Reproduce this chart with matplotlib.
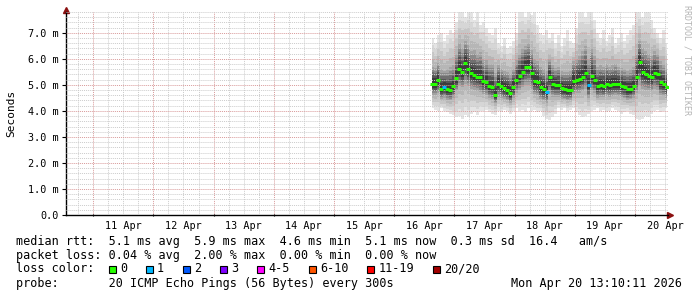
import numpy as np
import matplotlib
matplotlib.use('Agg')
import matplotlib.pyplot as plt
import matplotlib.dates as mdates
from matplotlib.ticker import MultipleLocator, FuncFormatter, NullFormatter
from matplotlib.patches import Rectangle

W, H = 697, 297
MONO = 'DejaVu Sans Mono'

# ---- data (ms), one column every 72 min ----
t_start = np.datetime64('2026-04-16T15:10:11')
view_start = np.datetime64('2026-04-10T13:10:11')
view_end = np.datetime64('2026-04-20T13:10:11')

median = [5.04, 5.05, 5.17, 4.86, 4.91, 4.84, 4.82, 4.95, 5.25, 5.62,
          5.48, 5.83, 5.60, 5.45, 5.38, 5.32, 5.30, 5.15, 5.10, 4.95,
          4.90, 4.62, 5.05, 4.95, 4.87, 4.80, 4.68, 4.93, 5.20, 5.35,
          5.50, 5.68, 5.70, 5.45, 5.16, 5.12, 4.92, 4.85, 4.74, 5.30,
          5.05, 5.00, 4.98, 4.87, 4.84, 4.80, 4.82, 5.15, 5.18, 5.24,
          5.30, 5.45, 5.00, 5.35, 5.20, 4.94, 5.00, 4.97, 5.02, 5.00,
          5.03, 5.04, 5.02, 4.95, 4.90, 4.83, 4.85, 4.94, 5.30, 5.86,
          5.50, 5.42, 5.35, 5.30, 5.47, 5.40, 5.10, 5.02, 4.91]
q1 = [4.62, 4.60, 4.70, 4.45, 4.50, 4.42, 4.40, 4.50, 4.75, 4.95,
      4.90, 5.05, 4.95, 4.85, 4.80, 4.78, 4.72, 4.65, 4.60, 4.50,
      4.45, 4.30, 4.55, 4.50, 4.45, 4.40, 4.32, 4.48, 4.70, 4.80,
      4.90, 5.00, 5.00, 4.85, 4.65, 4.60, 4.45, 4.40, 4.30, 4.70,
      4.55, 4.55, 4.55, 4.45, 4.45, 4.40, 4.42, 4.65, 4.70, 4.70,
      4.75, 4.85, 4.50, 4.80, 4.70, 4.50, 4.55, 4.52, 4.58, 4.55,
      4.58, 4.60, 4.58, 4.52, 4.48, 4.42, 4.45, 4.50, 4.70, 5.00,
      4.85, 4.80, 4.80, 4.75, 4.85, 4.80, 4.60, 4.58, 4.50]
q3 = [5.70, 5.65, 5.85, 5.60, 5.55, 5.60, 5.70, 5.75, 6.20, 6.60,
      6.40, 6.70, 6.55, 6.30, 6.35, 6.20, 6.25, 6.00, 5.95, 5.80,
      5.80, 5.45, 5.75, 5.60, 5.55, 5.50, 5.40, 5.60, 5.95, 6.20,
      6.40, 6.50, 6.60, 6.35, 6.00, 5.90, 5.70, 5.60, 5.55, 6.00,
      5.75, 5.65, 5.70, 5.55, 5.50, 5.50, 5.55, 5.90, 6.00, 6.10,
      6.30, 6.50, 6.00, 6.40, 6.10, 5.70, 5.75, 5.70, 5.80, 5.70,
      5.75, 5.80, 5.70, 5.65, 5.60, 5.55, 5.60, 5.70, 6.20, 6.70,
      6.40, 6.30, 6.20, 6.10, 6.30, 6.20, 5.90, 5.80, 5.60]
ping_min = [4.10, 4.05, 4.00, 4.10, 4.00, 3.95, 3.90, 3.85, 3.75, 3.80,
            3.70, 3.85, 3.75, 3.90, 3.95, 3.85, 4.00, 4.00, 4.05, 3.95,
            3.90, 3.85, 4.00, 3.95, 4.05, 4.00, 3.90, 4.00, 4.10, 4.00,
            4.05, 3.95, 4.10, 4.00, 4.05, 3.95, 4.00, 3.80, 3.70, 3.65,
            3.75, 3.90, 4.10, 4.05, 4.10, 4.00, 4.05, 4.10, 3.95, 3.85,
            3.75, 3.80, 3.90, 4.00, 4.05, 4.10, 4.00, 4.05, 3.95, 4.00,
            4.10, 4.05, 4.00, 3.90, 3.95, 4.00, 3.90, 3.85, 3.70, 3.65,
            3.70, 3.80, 3.75, 3.90, 4.00, 4.05, 3.95, 4.00, 4.10]
ping_max = [6.8, 6.6, 6.9, 7.0, 6.7, 6.9, 7.1, 7.0, 7.4, 7.8,
            7.8, 7.6, 7.8, 7.8, 7.5, 7.8, 7.3, 7.4, 7.2, 7.0,
            6.9, 7.2, 6.6, 6.5, 6.8, 6.4, 6.5, 6.7, 7.0, 7.8,
            7.8, 7.6, 7.8, 7.7, 7.8, 7.3, 7.0, 6.9, 7.1, 6.8,
            7.0, 6.6, 6.9, 6.5, 6.8, 7.1, 6.7, 6.6, 7.2, 7.8,
            7.8, 7.6, 7.8, 7.8, 7.5, 7.0, 6.8, 7.1, 6.7, 6.9,
            7.2, 6.6, 6.8, 7.0, 6.7, 6.9, 7.1, 7.3, 7.8, 7.8,
            7.6, 7.8, 7.8, 7.5, 7.2, 7.0, 6.8, 7.1, 6.6]
loss = [0, 0, 0, 0, 1, 0, 0, 0, 0, 0,
        0, 0, 0, 0, 0, 0, 0, 0, 0, 0,
        0, 0, 0, 0, 0, 0, 0, 0, 0, 0,
        0, 0, 0, 0, 0, 0, 0, 0, 1, 0,
        0, 0, 0, 0, 0, 0, 0, 0, 0, 0,
        0, 0, 1, 0, 0, 0, 0, 0, 0, 0,
        0, 0, 0, 0, 0, 0, 0, 0, 0, 0,
        0, 0, 0, 0, 0, 0, 0, 0, 0]

loss_labels = ['0', '1', '2', '3', '4-5', '6-10', '11-19', '20/20']
loss_colors = ['#26ff00', '#00b8ff', '#0059ff', '#7e00ff', '#ff00ff',
               '#ff5500', '#ff0000', '#a10000']

rtt_line = "median rtt:  5.1 ms avg  5.9 ms max  4.6 ms min  5.1 ms now  0.3 ms sd  16.4   am/s"
loss_line = "packet loss: 0.04 % avg  2.00 % max  0.00 % min  0.00 % now"
probe_line = "probe:       20 ICMP Echo Pings (56 Bytes) every 300s"
stamp = "Mon Apr 20 13:10:11 2026"

times = t_start + np.arange(len(median)) * np.timedelta64(72, 'm')
med = np.array(median)
lo = np.array(ping_min)
hi = np.array(ping_max)
a = np.array(q1)
b = np.array(q3)

fig = plt.figure(figsize=(W / 100, H / 100), dpi=100)
ax = fig.add_axes([66 / W, 1 - 215 / H, 602 / W, 203 / H])

# smoke: outer layers (extremes -> quartiles), then inner (quartiles -> median)
outer = ['#e4e4e4', '#d6d6d6', '#c6c6c6', '#b6b6b6']
for k, c in enumerate(outer):
    f = k / len(outer)
    ax.fill_between(times, lo + (a - lo) * f, hi - (hi - b) * f, step='mid', color=c, lw=0)
inner = ['#a2a2a2', '#8a8a8a', '#707070', '#555555', '#3c3c3c']
for k, c in enumerate(inner):
    f = k / len(inner)
    ax.fill_between(times, a + (med - 0.08 - a) * f, b - (b - med - 0.1) * f,
                    step='mid', color=c, lw=0)

lossarr = np.array(loss)
for k, col in enumerate(loss_colors):
    m = lossarr == k
    if m.any():
        ax.plot(times[m], med[m], linestyle='none', marker='_', markersize=3.5,
                mew=2.2, color=col, zorder=4)

ax.set_xlim(view_start, view_end)
ax.set_ylim(0, 7.8)

ax.xaxis.set_major_locator(mdates.DayLocator())
ax.xaxis.set_major_formatter(NullFormatter())
ax.xaxis.set_minor_locator(mdates.HourLocator(byhour=[6, 12, 18]))
def xlab(v, pos):
    if int(round(v * 24)) % 24 == 12:
        return mdates.num2date(v).strftime('%d %b')
    return ''
ax.xaxis.set_minor_formatter(FuncFormatter(xlab))

ax.yaxis.set_major_locator(MultipleLocator(1))
ax.yaxis.set_minor_locator(MultipleLocator(0.2))
ax.yaxis.set_major_formatter(FuncFormatter(lambda v, p: '0.0' if abs(v) < 1e-9 else '%.1f m' % v))

ax.set_axisbelow(False)
ax.grid(which='minor', color='#cccccc', linestyle=(0, (1, 1)), linewidth=0.7)
ax.grid(which='major', color='#d99a9a', linestyle=(0, (1, 1)), linewidth=0.7)

ax.tick_params(which='both', labelsize=7.3, colors='black')
ax.tick_params(axis='x', which='major', length=2, direction='inout')
ax.tick_params(axis='x', which='minor', length=0, pad=4)
ax.tick_params(axis='y', which='major', length=3, pad=2.5)
ax.tick_params(axis='y', which='minor', length=0)
for lab in ax.get_xticklabels(which='both') + ax.get_yticklabels():
    lab.set_family(MONO)

for s in ('top', 'right'):
    ax.spines[s].set_visible(False)
for s in ('left', 'bottom'):
    ax.spines[s].set_color('black')
    ax.spines[s].set_linewidth(1)

ax.plot([1.004], [0], marker='>', markersize=4, color='#8b1010', transform=ax.transAxes, clip_on=False)
ax.plot([0], [1.012], marker='^', markersize=4, color='#8b1010', transform=ax.transAxes, clip_on=False)

def fx(px):
    return px / W
def fy(py):
    return 1 - py / H

fig.text(fx(11), fy(113), 'Seconds', rotation=90, ha='center', va='center',
         family=MONO, fontsize=8)
fig.text(fx(687), fy(60), 'RRDTOOL / TOBI OETIKER', rotation=270, ha='center', va='center',
         family=MONO, fontsize=6, color='#b4b4b4')

fs = 8.5
fig.text(fx(16), fy(241), rtt_line, family=MONO, fontsize=fs, va='center')
fig.text(fx(16), fy(255), loss_line, family=MONO, fontsize=fs, va='center')
fig.text(fx(16), fy(269), 'loss color:', family=MONO, fontsize=fs, va='center')
fig.text(fx(16), fy(283), probe_line, family=MONO, fontsize=fs, va='center')
fig.text(fx(682), fy(283), stamp, family=MONO, fontsize=fs, va='center', ha='right')

cw = 7.12
bx = 109
for lab, col in zip(loss_labels, loss_colors):
    fig.patches.append(Rectangle((fx(bx), fy(273)), 7 / W, 7 / H, transform=fig.transFigure,
                                 facecolor=col, edgecolor='black', linewidth=0.8))
    fig.text(fx(bx + 11), fy(269), lab, family=MONO, fontsize=fs, va='center')
    bx = bx + 11 + len(lab) * cw + 19

fig.savefig('out.png', dpi=100)
